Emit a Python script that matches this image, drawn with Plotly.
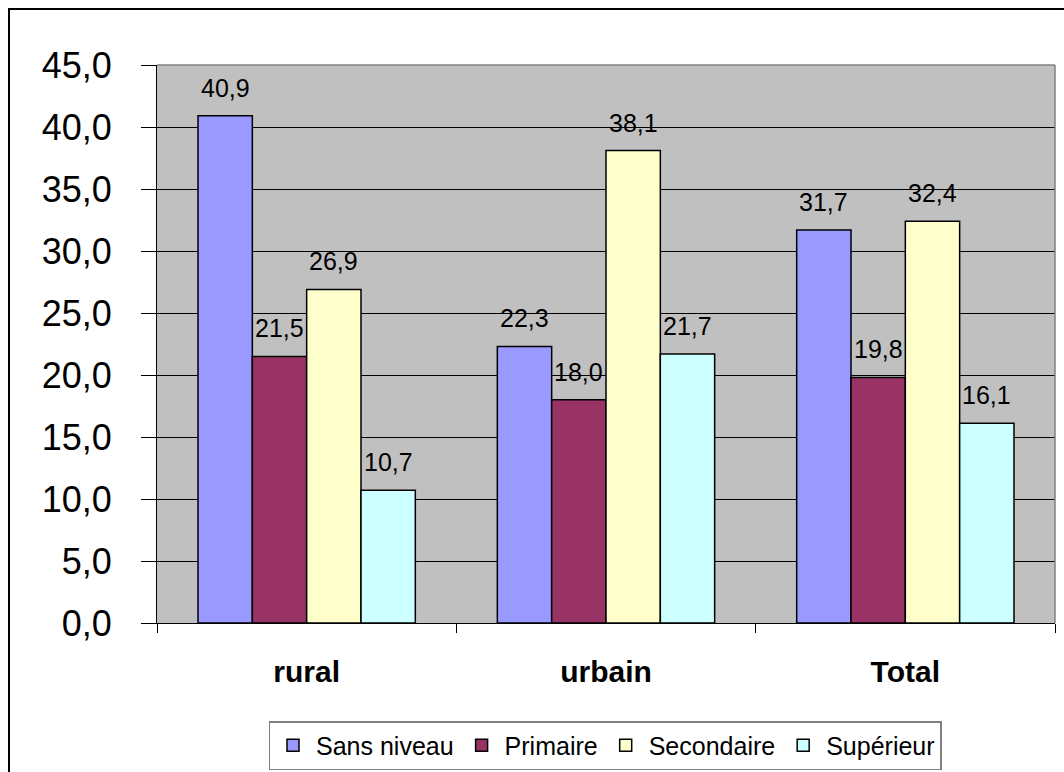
import plotly.graph_objects as go

categories = ["rural", "urbain", "Total"]
series_names = ["Sans niveau", "Primaire", "Secondaire", "Supérieur"]
sans_niveau = [40.9, 22.3, 31.7]
primaire = [21.5, 18.0, 19.8]
secondaire = [26.9, 38.1, 32.4]
superieur = [10.7, 21.7, 16.1]
y_ticks = [0, 5, 10, 15, 20, 25, 30, 35, 40, 45]

colors = ["#9999FF", "#993366", "#FFFFCC", "#CCFFFF"]
all_series = [sans_niveau, primaire, secondaire, superieur]

W, H = 1064, 772
ML, MR, MT, MB = 157, 9, 65, 149
BARGAP = 0.274
FONT = "Liberation Sans, Arial, sans-serif"


def fmt(v):
    return f"{v:.1f}".replace(".", ",")


fig = go.Figure()
for name, vals, col in zip(series_names, all_series, colors):
    fig.add_trace(go.Bar(
        name=name, x=categories, y=vals,
        marker=dict(color=col, line=dict(color="black", width=1.5)),
    ))

plot_w = W - ML - MR
plot_h = H - MT - MB
cat_w = plot_w / len(categories)
bar_w = cat_w * (1 - BARGAP) / len(series_names)

annotations = []
for i, vals in enumerate(all_series):
    for c, v in zip(categories, vals):
        annotations.append(dict(
            x=c, y=v, xref="x", yref="y", text=fmt(v), showarrow=False,
            xshift=(i - 1.5) * bar_w, yshift=12, yanchor="bottom",
            font=dict(family=FONT, size=25, color="black"),
        ))

fig.update_layout(
    width=W, height=H,
    margin=dict(l=ML, r=MR, t=MT, b=MB, autoexpand=False),
    paper_bgcolor="white", plot_bgcolor="#C0C0C0",
    barmode="group", bargap=BARGAP, bargroupgap=0,
    separators=", ",
    font=dict(family=FONT, color="black"),
    showlegend=True,
    legend=dict(
        orientation="h", xref="container", x=605 / W, xanchor="center",
        yref="container", y=1 - 721 / H, yanchor="top",
        bordercolor="#808080", borderwidth=1.5, bgcolor="white",
        font=dict(family=FONT, size=25, color="black"),
        traceorder="normal", itemwidth=36,
    ),
    annotations=annotations,
    shapes=[
        dict(type="line", xref="paper", yref="paper", x0=0, x1=1, y0=1, y1=1,
             line=dict(color="#808080", width=1.5)),
        dict(type="line", xref="paper", yref="paper", x0=1, x1=1, y0=0, y1=1,
             line=dict(color="#808080", width=1.5)),
        dict(type="rect", xref="paper", yref="paper",
             x0=(9 - ML) / plot_w, x1=(1080 - ML) / plot_w,
             y0=-(790 - (H - MB)) / plot_h, y1=(H - MB - 9) / plot_h,
             line=dict(color="black", width=2), layer="below"),
    ],
)

fig.update_xaxes(
    automargin=False,
    showline=True, linecolor="black", linewidth=1,
    ticks="outside", tickson="boundaries", ticklen=9, tickcolor="black",
    tickfont=dict(family=FONT, size=30, color="black", weight="bold"),
    ticklabelstandoff=22, showgrid=False,
)
fig.update_yaxes(
    automargin=False,
    range=[0, 45], tickvals=y_ticks, tickformat=".1f",
    showline=True, linecolor="black", linewidth=1,
    ticks="outside", ticklen=15, tickcolor="black",
    showgrid=True, gridcolor="black", gridwidth=1,
    tickfont=dict(family=FONT, size=36, color="black"),
    ticklabelstandoff=22, zeroline=False,
)

fig.write_html("out.html")
